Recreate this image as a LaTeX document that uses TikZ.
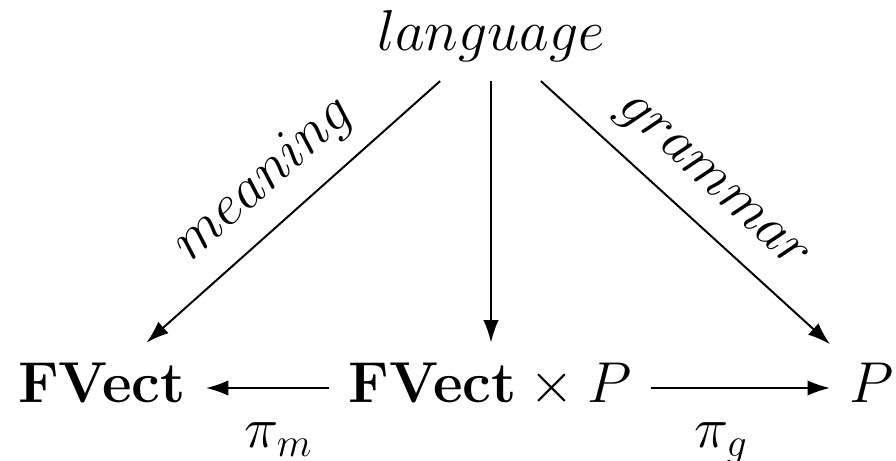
\RequirePackage{fix-cm}
\documentclass[tikz,border=0pt]{standalone}
\usetikzlibrary{arrows.meta}
\begin{document}
\begin{tikzpicture}[x=0.025cm,y=-0.025cm,
  obj/.style={font=\fontsize{41}{49}\selectfont, inner sep=0.49cm, anchor=base},
  lbl/.style={font=\fontsize{41}{49}\selectfont, inner sep=0.45cm},
  arr/.style={line width=1.4pt, -{Latex[length=16pt,width=11pt]}},
  rarr/.style={line width=1.4pt, {Latex[length=16pt,width=11pt]}-}]
\useasboundingbox (0,0) rectangle (896,461);
\node[obj] (lang) at (491,50) {$language$};
\node[obj] (fv) at (102,402) {$\mathbf{FVect}$};
\node[obj] (mid) at (490,402) {$\mathbf{FVect}\times P$};
\node[obj] (p) at (872,402) {$P$};
\draw[rarr] (fv) -- node[lbl, sloped, above] {$meaning$} (lang);
\draw[arr] (lang) -- node[lbl, sloped, above] {$grammar$} (p);
\draw[arr] (lang.south) -- (lang.south |- mid.north);
\draw[arr] ([yshift=0.35cm]mid.base west) -- node[lbl, pos=0.41, below=0.85cm, inner sep=0pt] {$\pi_m$} ([yshift=0.35cm]fv.base east);
\draw[arr] ([yshift=0.35cm]mid.base east) -- node[lbl, pos=0.39, below=0.85cm, inner sep=0pt] {$\pi_g$} ([yshift=0.35cm]p.base west);
\end{tikzpicture}
\end{document}
